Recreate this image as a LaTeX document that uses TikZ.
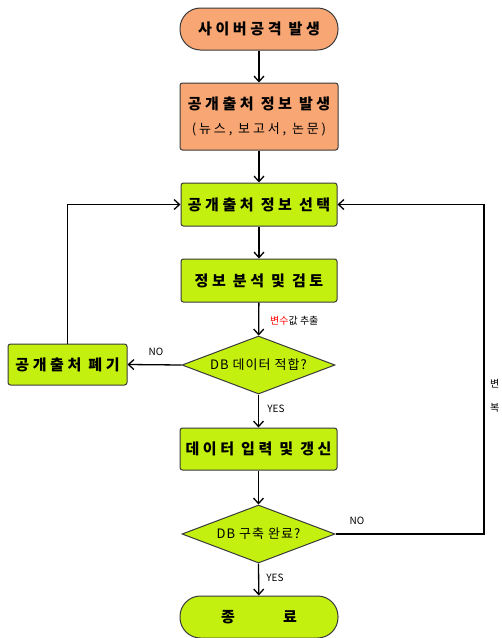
\documentclass[tikz,border=0pt]{standalone}
\usepackage{fontspec}
\setmainfont{Noto Sans CJK KR}
\usetikzlibrary{arrows.meta,shapes.geometric}
\definecolor{orangefill}{HTML}{F7A674}
\definecolor{greenfill}{HTML}{C3F00F}
\definecolor{edgegray}{HTML}{3A3A3A}
\tikzset{
  box/.style={draw=edgegray, line width=1pt, rounded corners=2.5pt, inner sep=0pt,
    font=\bfseries\fontsize{15}{18}\selectfont\addfontfeatures{LetterSpace=24}, align=center},
  orangef/.style={fill=orangefill},
  greenf/.style={fill=greenfill},
  term/.style={rounded corners=20.5pt},
  dec/.style={diamond, draw=edgegray, line width=1pt, fill=greenfill, inner sep=0pt,
    minimum width=153pt, minimum height=58pt},
  dectext/.style={inner sep=0pt, font=\fontsize{13}{15}\selectfont\addfontfeatures{LetterSpace=8}},
  conn/.style={line width=1.3pt, -{Straight Barb[length=5.5pt,width=10pt,line width=1.3pt]}},
  lab/.style={font=\fontsize{10}{12}\selectfont, inner sep=0pt}
}
\begin{document}
\begin{tikzpicture}[x=1pt,y=-1pt]
\useasboundingbox (0,0) rectangle (502,638);
\node[box, orangef, term, minimum width=158pt, minimum height=42pt] (start) at (259,29) {사이버공격 발생};
\node[box, orangef, minimum width=158pt, minimum height=67pt] (gen) at (259,116.5)
  {공개출처 정보 발생\\[6pt]{\mdseries\fontsize{13}{15}\selectfont\addfontfeatures{LetterSpace=22}(뉴스, 보고서, 논문)}};
\node[box, greenf, minimum width=156pt, minimum height=43pt] (sel) at (259,204.5) {공개출처 정보 선택};
\node[box, greenf, minimum width=156pt, minimum height=43pt] (ana) at (259,280.5) {정보 분석 및 검토};
\node[dec] (d1) at (258.5,365) {};
\node[dectext] (d1t) at (d1) {DB 데이터 적합?};
\node[box, greenf, minimum width=119pt, minimum height=41pt] (disc) at (67.5,364.5) {공개출처 폐기};
\node[box, greenf, minimum width=157pt, minimum height=42pt] (inp) at (258.5,449) {데이터 입력 및 갱신};
\node[dec] (d2) at (258.5,534) {};
\node[dectext] (d2t) at (d2) {DB 구축 완료?};
\node[box, greenf, term, minimum width=158pt, minimum height=42pt] (end) at (259,617) {종\hspace{48pt}료};
\coordinate (rc) at (484,534);

\draw[conn] (start) -- (gen);
\draw[conn] (gen) -- (sel);
\draw[conn] (sel) -- (ana);
\draw[conn] (ana) -- (d1);
\draw[conn] (d1.west) -- (disc.east);
\draw[conn] (d1.south) -- (inp);
\draw[conn] (inp) -- (d2);
\draw[conn] (d2.south) -- (end);
\draw[conn] (d2.east) -- (rc) |- (sel.east);
\draw[conn] (disc.north) |- (sel.west);

\node[lab, anchor=west] (l1) at (270,321) {\textcolor{red}{변수}값 추출};
\node[lab] (l2) at (156,352) {NO};
\node[lab] (l3) at (276,409) {YES};
\node[lab] (l4) at (357,521) {NO};
\node[lab] (l5) at (275,578) {YES};
\node[lab, anchor=west] (l6) at (490,384) {변};
\node[lab, anchor=west] (l7) at (490,408) {복};
\end{tikzpicture}
\end{document}
